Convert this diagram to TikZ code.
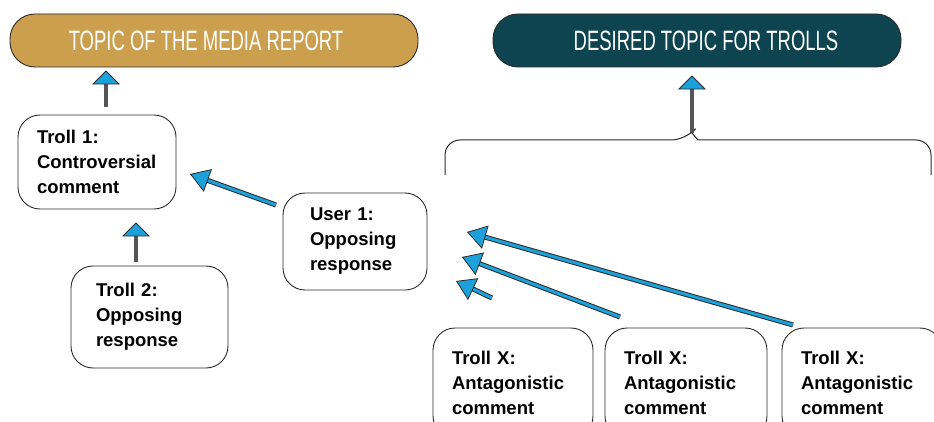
\documentclass[tikz,border=0pt]{standalone}
\usepackage{fontspec}
\setmainfont{Liberation Sans}
\newfontfamily\headfont[FakeStretch=0.66]{Liberation Sans}
\usetikzlibrary{arrows.meta,calc}
\definecolor{gold}{HTML}{CC9F4F}
\definecolor{headteal}{HTML}{0E4450}
\definecolor{tipblue}{HTML}{1DA1DA}
\definecolor{shaft}{HTML}{555555}
\definecolor{edge}{HTML}{2B2B2B}
\hyphenpenalty=10000
\exhyphenpenalty=10000
\begin{document}
\begin{tikzpicture}[x=1pt,y=-1pt,
  head/.style={draw=edge, line width=0.9pt, rounded corners=25pt, minimum width=408pt, minimum height=53pt, text=white, font=\headfont\fontsize{28}{28}\selectfont},
  box/.style={draw=edge, line width=0.9pt, fill=white, rounded corners=22pt, align=left, font=\bfseries\fontsize{18.5}{25}\selectfont},
  grayarr/.style={draw=shaft, line width=3.2pt, -{Triangle[length=14pt,width=28pt,fill=tipblue,color=edge,line width=0.8pt]}},
  bluearr/.style={draw=tipblue, line width=3pt, -{Triangle[length=19pt,width=24pt,fill=tipblue,color=edge,line width=0.8pt]}, preaction={draw=edge, line width=5pt, arrows=-, shorten >=14pt}}]
\useasboundingbox (0,0) rectangle (934,422);
\clip (0,0) rectangle (934,422);

% header boxes
\node[head, fill=gold] (gold) at (214,40.5) {\hspace*{-16pt}TOPIC OF THE MEDIA REPORT};
\node[head, fill=headteal] (dtop) at (697,40.5) {\hspace*{18pt}DESIRED TOPIC FOR TROLLS};

% comment boxes
\node[box, minimum width=158pt, minimum height=94pt, inner xsep=19pt, text width=120pt] (t1) at (97,162) {Troll 1:\\Controversial\\comment};
\node[box, minimum width=157pt, minimum height=102pt, inner xsep=25pt, text width=107pt] (t2) at (149.5,317) {Troll 2:\\Opposing\\response};
\node[box, minimum width=144pt, minimum height=97pt, inner xsep=27pt, text width=90pt] (u1) at (355,241.5) {User 1:\\Opposing\\response};
\node[box, minimum width=160pt, minimum height=110pt, inner xsep=19pt, text width=122pt] (x1) at (513,383) {Troll X:\\Antagonistic\\comment};
\node[box, minimum width=162pt, minimum height=110pt, inner xsep=19pt, text width=124pt] (x2) at (686,383) {Troll X:\\Antagonistic\\comment};
\node[box, minimum width=160pt, minimum height=110pt, inner xsep=19pt, text width=122pt] (x3) at (862,383) {Troll X:\\Antagonistic\\comment};

% bracket
\coordinate (brtip) at (692,133);
\draw[edge, line width=1pt, rounded corners=15pt] (445,175) -- (445,140) -- (686,140) [sharp corners] -- (brtip) -- (698,140) [rounded corners=15pt] -- (931,140) -- (931,175);

% vertical arrows
\draw[grayarr, shorten <=8pt, shorten >=3pt] ([xshift=9pt]t1.north) -- ([xshift=9pt]t1.north |- gold.south);
\draw[grayarr, shorten <=4pt, shorten >=13pt] ([xshift=-13.5pt]t2.north) -- ([xshift=-13.5pt]t2.north |- t1.south);
\draw[grayarr, shorten >=8pt] (brtip) -- (brtip |- dtop.south);

% diagonal arrows
\coordinate (u1s) at (276,205);
\coordinate (t1e) at (190,174);
\draw[bluearr] (u1s) -- (t1e);

\coordinate (x1s) at (492,298);
\coordinate (x1e) at (456,281);
\coordinate (x2s) at (620,317);
\coordinate (x2e) at (462,257);
\coordinate (x3s) at (793,325);
\coordinate (x3e) at (467,232);
\draw[bluearr] (x1s) -- (x1e);
\draw[bluearr] (x2s) -- (x2e);
\draw[bluearr] (x3s) -- (x3e);
\end{tikzpicture}
\end{document}
